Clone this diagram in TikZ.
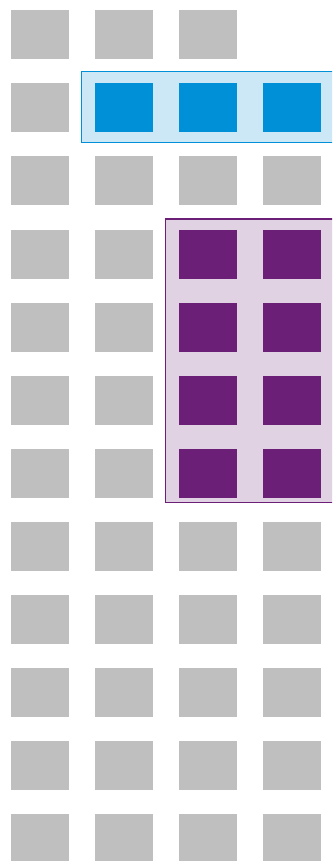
\documentclass[tikz,border=0pt]{standalone}
\definecolor{cgray}{RGB}{191,191,191}
\definecolor{cblue}{RGB}{0,144,216}
\definecolor{cbluel}{RGB}{204,232,246}
\definecolor{cpurple}{RGB}{107,31,119}
\definecolor{cpurplel}{RGB}{224,209,227}
\tikzset{
  cell/.style={fill=#1,draw=none,inner sep=0pt,minimum width=58pt,minimum height=49pt,anchor=north west},
  grp/.style={fill=#1l,draw=#1,line width=1.3pt}
}
\begin{document}
\begin{tikzpicture}[x=1pt,y=-1pt]
\useasboundingbox (0,0) rectangle (332,861);
\clip (0,0) rectangle (332,861);
\draw[grp=cblue] (81.6,71.6) rectangle (340,142.4);
\draw[grp=cpurple] (165.6,219) rectangle (340,502.4);
\foreach \r in {1,...,12}{
  \foreach \c in {1,...,4}{
    \pgfmathsetmacro{\xx}{11+84*(\c-1)}
    \pgfmathsetmacro{\yy}{10+73.1*(\r-1)}
    \def\col{cgray}
    \ifnum\r=2 \ifnum\c>1 \def\col{cblue}\fi\fi
    \ifnum\r>3 \ifnum\r<8 \ifnum\c>2 \def\col{cpurple}\fi\fi\fi
    \ifnum\r=1 \ifnum\c=4 \else
      \node[cell=\col] (s\r-\c) at (\xx,\yy) {};
    \fi\else
      \node[cell=\col] (s\r-\c) at (\xx,\yy) {};
    \fi
  }
}
\end{tikzpicture}
\end{document}
